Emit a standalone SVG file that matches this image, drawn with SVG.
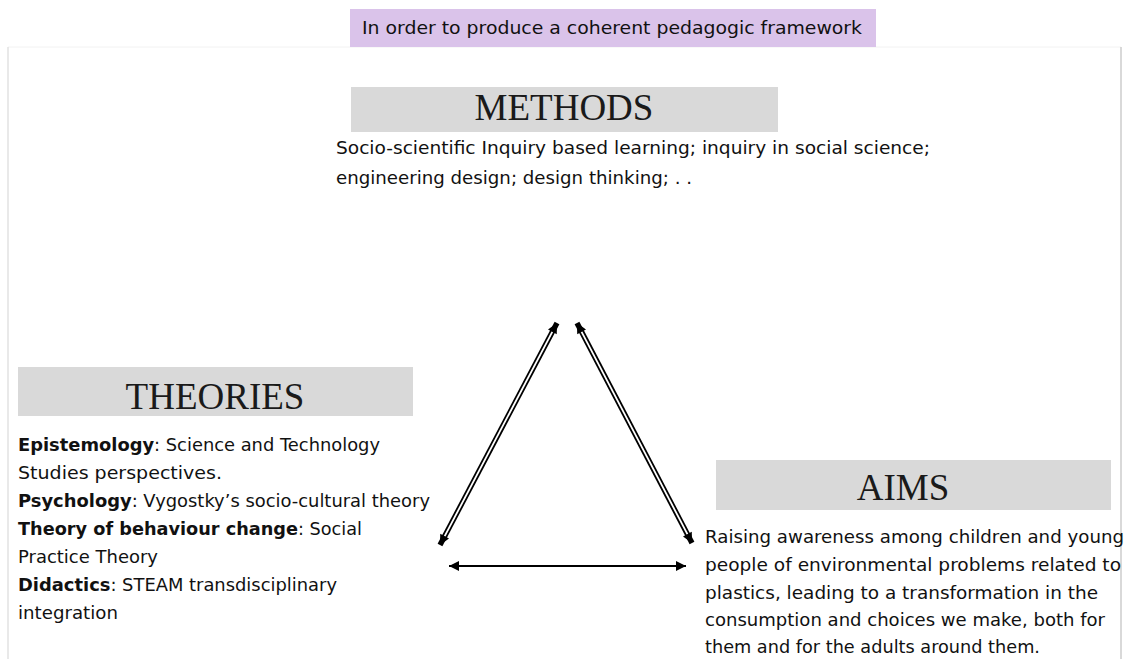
<svg xmlns="http://www.w3.org/2000/svg" width="1128" height="659" viewBox="0 0 1128 659">
<style>
.body{font-family:"DejaVu Sans","Noto Sans",sans-serif;font-size:18px;fill:#111}
.b{font-weight:bold}
.head{font-family:"Liberation Serif","Times New Roman",serif;font-size:37px;fill:#1a1a1a;text-anchor:middle}
.hbox{fill:#d9d9d9}
.outer{stroke:#000;stroke-width:5.4;fill:none}
.inner{stroke:#fff;stroke-width:1.8;fill:none}
.single{stroke:#000;stroke-width:2.2;fill:none}
</style>
<defs>
<marker id="ah" viewBox="0 0 10 10" refX="10" refY="5" markerWidth="11" markerHeight="10" markerUnits="userSpaceOnUse" orient="auto-start-reverse">
<path d="M0,0 L10,5 L0,10 Z" fill="#000"/>
</marker>
</defs>
<rect width="1128" height="659" fill="#fff"/>
<g id="frame">
<line x1="8" y1="47" x2="1121" y2="47" stroke="#f2f2f2" stroke-width="1"/>
<line x1="8" y1="47" x2="8" y2="659" stroke="#e2e2e2" stroke-width="1.5"/>
<line x1="1121" y1="47" x2="1121" y2="659" stroke="#cdcdcd" stroke-width="1.5"/>
</g>
<g id="title">
<rect x="350" y="9" width="526" height="38" fill="#dac3ea"/>
<text class="body" x="362" y="34" font-size="19" textLength="500" lengthAdjust="spacingAndGlyphs">In order to produce a coherent pedagogic framework</text>
</g>
<g id="methods">
<rect class="hbox" x="351" y="87" width="427" height="45"/>
<text class="head" x="564" y="120">METHODS</text>
<text class="body" x="336" y="154" textLength="594" lengthAdjust="spacingAndGlyphs">Socio-scientific Inquiry based learning; inquiry in social science;</text>
<text class="body" x="336" y="184" textLength="356" lengthAdjust="spacingAndGlyphs">engineering design; design thinking; . .</text>
</g>
<g id="theories">
<rect class="hbox" x="18" y="367" width="395" height="49"/>
<text class="head" x="215" y="409">THEORIES</text>
<text class="body" x="18" y="451" textLength="362" lengthAdjust="spacingAndGlyphs"><tspan class="b">Epistemology</tspan>: Science and Technology</text>
<text class="body" x="18" y="479" textLength="204" lengthAdjust="spacingAndGlyphs">Studies perspectives.</text>
<text class="body" x="18" y="507" textLength="412" lengthAdjust="spacingAndGlyphs"><tspan class="b">Psychology</tspan>: Vygostky’s socio-cultural theory</text>
<text class="body" x="18" y="535" textLength="344" lengthAdjust="spacingAndGlyphs"><tspan class="b">Theory of behaviour change</tspan>: Social</text>
<text class="body" x="18" y="563" textLength="140" lengthAdjust="spacingAndGlyphs">Practice Theory</text>
<text class="body" x="18" y="591" textLength="319" lengthAdjust="spacingAndGlyphs"><tspan class="b">Didactics</tspan>: STEAM transdisciplinary</text>
<text class="body" x="18" y="619" textLength="100" lengthAdjust="spacingAndGlyphs">integration</text>
</g>
<g id="aims">
<rect class="hbox" x="716" y="460" width="395" height="50"/>
<text class="head" x="903" y="500">AIMS</text>
<text class="body" x="705" y="543" textLength="419" lengthAdjust="spacingAndGlyphs">Raising awareness among children and young</text>
<text class="body" x="705" y="571" textLength="416" lengthAdjust="spacingAndGlyphs">people of environmental problems related to</text>
<text class="body" x="705" y="599" textLength="393" lengthAdjust="spacingAndGlyphs">plastics, leading to a transformation in the</text>
<text class="body" x="705" y="626" textLength="400" lengthAdjust="spacingAndGlyphs">consumption and choices we make, both for</text>
<text class="body" x="705" y="653" textLength="335" lengthAdjust="spacingAndGlyphs">them and for the adults around them.</text>
</g>
<g id="connectors">
<line class="outer" x1="440" y1="545" x2="557" y2="323" marker-start="url(#ah)" marker-end="url(#ah)"/>
<line class="inner" x1="444.7" y1="536.1" x2="552.3" y2="331.9"/>
<line class="outer" x1="577" y1="323" x2="692" y2="543" marker-start="url(#ah)" marker-end="url(#ah)"/>
<line class="inner" x1="581.6" y1="331.9" x2="687.4" y2="534.1"/>
<line class="single" x1="449" y1="566" x2="686" y2="566" marker-start="url(#ah)" marker-end="url(#ah)"/>
</g>
</svg>
